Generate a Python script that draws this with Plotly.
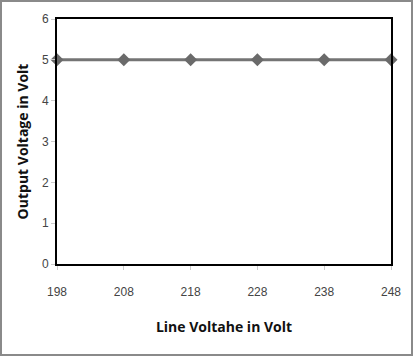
import plotly.graph_objects as go

line_voltage = [198, 208, 218, 228, 238, 248]
output_voltage = [5, 5, 5, 5, 5, 5]
x_ticks = [198, 208, 218, 228, 238, 248]
y_ticks = [0, 1, 2, 3, 4, 5, 6]

fig = go.Figure()
fig.add_trace(go.Scatter(
    x=line_voltage, y=output_voltage, mode="lines+markers",
    line=dict(color="#747474", width=3),
    marker=dict(symbol="diamond", size=10, color="#6a6a6a"),
    cliponaxis=False, showlegend=False,
))

tick_font = dict(family="Liberation Sans Narrow, Arial Narrow, sans-serif", size=12, color="#444444")
title_font = dict(family="Open Sans, DejaVu Sans, sans-serif", size=14, color="#111111")

fig.update_layout(
    width=413, height=356,
    margin=dict(l=57, r=22, t=19, b=92),
    paper_bgcolor="white", plot_bgcolor="white",
    xaxis=dict(
        range=[198, 248], tickvals=x_ticks, showgrid=False, zeroline=False,
        showline=True, linecolor="black", linewidth=2, mirror=True,
        ticks="outside", ticklen=4, tickcolor="#cccccc", tickfont=tick_font,
        ticklabelstandoff=12,
        title=dict(text="<b>Line Voltahe in Volt</b>", font=title_font, standoff=24),
    ),
    yaxis=dict(
        range=[0, 6], tickvals=y_ticks, showgrid=False, zeroline=False,
        showline=True, linecolor="black", linewidth=2, mirror=True,
        ticks="outside", ticklen=4, tickcolor="#cccccc", tickfont=tick_font,
        title=dict(text="<b>Output Voltage in Volt</b>", font=title_font, standoff=10),
    ),
)
fig.add_shape(type="rect", xref="paper", yref="paper",
              x0=-56/334, x1=1+21/334, y0=-91/245, y1=1+18/245,
              line=dict(color="#8a8a8a", width=2))
fig.write_html("out.html", config={"displayModeBar": False},
               post_script="document.body.style.margin='0px';document.body.style.overflow='hidden';")
